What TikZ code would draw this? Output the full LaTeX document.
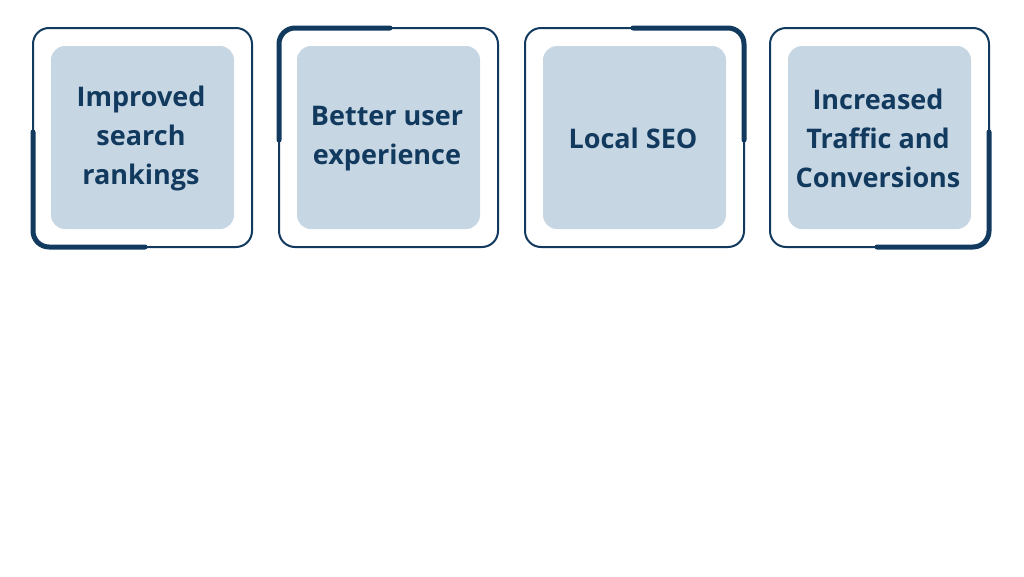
\documentclass[tikz,border=0pt]{standalone}
\usepackage{fontspec}
\setmainfont{Open Sans}
\definecolor{navy}{HTML}{123A5E}
\definecolor{pale}{HTML}{C6D6E3}
\begin{document}
\begin{tikzpicture}[x=1pt,y=-1pt,
  outer/.style={draw=navy,line width=2pt,rounded corners=16pt},
  inner/.style={fill=pale,rounded corners=14pt},
  accent/.style={draw=navy,line width=5pt,rounded corners=16pt,line cap=round},
  lbl/.style={font=\fontsize{27}{39}\selectfont\bfseries,text=navy,align=center}]
\useasboundingbox (0,0) rectangle (1024,576);
\foreach \i/\x in {1/33,2/279,3/525,4/770}{
  \draw[outer] (\x,28) rectangle ++(219,219);
  \fill[inner] (\x+18,46) rectangle ++(183,183);
  \coordinate (c\i) at (\x+108,138.5);
}
\draw[accent] (33,132) -- (33,247) -- (145,247);
\draw[accent] (279,140) -- (279,28) -- (390,28);
\draw[accent] (633,28) -- (744,28) -- (744,140);
\draw[accent] (989,132) -- (989,247) -- (877,247);
\node[lbl] (t1) at (c1) {Improved\\search\\rankings};
\node[lbl] (t2) at (c2) {Better user\\experience};
\node[lbl] (t3) at (c3) {Local SEO};
\node[lbl] (t4) at (c4) {Increased\\Traffic and\\Conversions};
\end{tikzpicture}
\end{document}
